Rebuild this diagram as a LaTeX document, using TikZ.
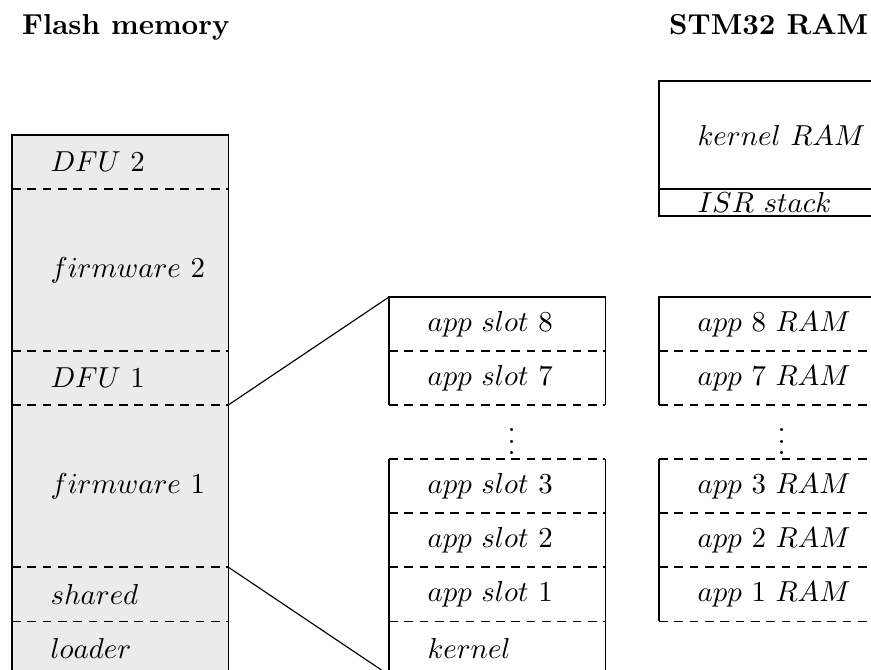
\documentclass[tikz,border=0pt]{standalone}

\begin{document}
\begin{tikzpicture}[y=0.657cm, cell/.style={anchor=west, inner sep=0pt}, cut/.style={dash pattern=on 3pt off 2.3pt}]
% one row = 0.657cm; flash column at x=0, apps at x=4.586, RAM at x=7.871
\clip (-0.146,2.5) rectangle (10.45,-9.889);

\node[anchor=base west, font=\bfseries] (flash_title) at (0,1.861) {Flash memory};
\node[anchor=base west, font=\bfseries] (ram_title) at (7.871,1.861) {STM32 RAM};

% flash memory: 10 rows
\fill[black!8] (0,0) rectangle (2.63,-10);
\draw (0,0) rectangle (2.63,-10);
\draw[cut] (0,-1)--(2.63,-1) (0,-4)--(2.63,-4) (0,-5)--(2.63,-5) (0,-8)--(2.63,-8) (0,-9)--(2.63,-9);

% 0.462 = left offset of the text
\node[cell] (dfu2) at (0.462,-0.5) {$DFU$ 2};
\node[cell] (fw2) at (0.462,-2.5) {$firmware$ 2};
\node[cell] (dfu1) at (0.462,-4.5) {$DFU$ 1};
\node[cell] (fw1) at (0.462,-6.5) {$firmware$ 1};
\node[cell] (shared) at (0.462,-8.5) {$shared$};
\node[cell] (loader) at (0.462,-9.5) {$loader$};

% app slots: 4.586+2.63=7.216
\draw (4.586,-5)--(4.586,-3)--(7.216,-3)--(7.216,-5);
\draw[cut] (4.586,-4)--(7.216,-4) (4.586,-5)--(7.216,-5);
\draw (4.586,-6)--(4.586,-10)--(7.216,-10)--(7.216,-6);
\draw[cut] (4.586,-6)--(7.216,-6) (4.586,-7)--(7.216,-7) (4.586,-8)--(7.216,-8) (4.586,-9)--(7.216,-9);

\node[cell] (slot8) at (5.048,-3.5) {$app$ $slot$ 8};
\node[cell] (slot7) at (5.048,-4.5) {$app$ $slot$ 7};
\node[anchor=south, inner sep=0pt] (slot_dots) at (6.079,-5.93) {$\vdots$};
\node[cell] (slot3) at (5.048,-6.5) {$app$ $slot$ 3};
\node[cell] (slot2) at (5.048,-7.5) {$app$ $slot$ 2};
\node[cell] (slot1) at (5.048,-8.5) {$app$ $slot$ 1};
\node[cell] (kernel) at (5.048,-9.5) {$kernel$};

% RAM: 7.871+2.63=10.501
\draw (7.871,1) rectangle (10.501,-1.5);
\draw (7.871,-1)--(10.501,-1);
\node[cell] (kernel_ram) at (8.333,0) {$kernel$ $RAM$};
\node[cell] (isr) at (8.333,-1.25) {$ISR\ stack$};

\draw (7.871,-5)--(7.871,-3)--(10.501,-3)--(10.501,-5);
\draw[cut] (7.871,-4)--(10.501,-4) (7.871,-5)--(10.501,-5);
\draw (7.871,-6)--(7.871,-9) (10.501,-6)--(10.501,-9);
\draw[cut] (7.871,-6)--(10.501,-6) (7.871,-7)--(10.501,-7) (7.871,-8)--(10.501,-8) (7.871,-9)--(10.501,-9);

\node[cell] (ram8) at (8.333,-3.5) {$app$ 8 $RAM$};
\node[cell] (ram7) at (8.333,-4.5) {$app$ 7 $RAM$};
\node[anchor=south, inner sep=0pt] (ram_dots) at (9.364,-5.93) {$\vdots$};
\node[cell] (ram3) at (8.333,-6.5) {$app$ 3 $RAM$};
\node[cell] (ram2) at (8.333,-7.5) {$app$ 2 $RAM$};
\node[cell] (ram1) at (8.333,-8.5) {$app$ 1 $RAM$};

% zoom lines: DFU 1 / shared -> app slots
\coordinate (dfu1_se) at (2.63,-5);
\coordinate (slot8_nw) at (4.586,-3);
\coordinate (shared_ne) at (2.63,-8);
\coordinate (kernel_sw) at (4.586,-10);
\draw (dfu1_se)--(slot8_nw);
\draw (shared_ne)--(kernel_sw);

\end{tikzpicture}
\end{document}
